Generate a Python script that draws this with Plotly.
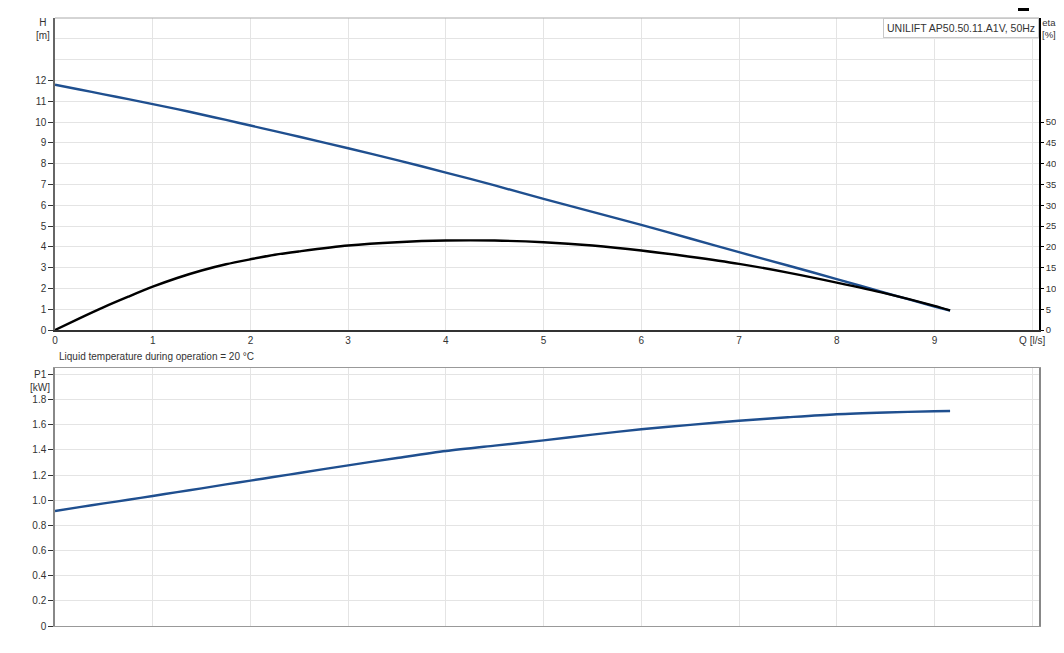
import plotly.graph_objects as go

# ---- data ----
q = [0, 0.25, 0.5, 0.75, 1, 1.25, 1.5, 1.75, 2, 2.25, 2.5, 3, 3.5, 4, 4.5, 5, 5.5, 6, 6.5, 7,
     7.5, 8, 8.5, 9, 9.16]
head_m = [11.79, 11.56, 11.33, 11.10, 10.86, 10.62, 10.36, 10.10, 9.83, 9.56, 9.29, 8.74, 8.17,
          7.57, 6.95, 6.30, 5.68, 5.05, 4.40, 3.74, 3.10, 2.45, 1.78, 1.13, 0.93]
eta_pct = [0, 2.8, 5.5, 8.0, 10.4, 12.5, 14.3, 15.8, 17.0, 18.1, 18.9, 20.3, 21.1, 21.5, 21.5,
           21.1, 20.3, 19.1, 17.6, 15.9, 13.8, 11.4, 8.8, 5.8, 4.7]
p1_kw = [0.915, 0.945, 0.975, 1.004, 1.034, 1.065, 1.095, 1.126, 1.156, 1.187, 1.217, 1.278,
         1.336, 1.392, 1.435, 1.476, 1.522, 1.565, 1.600, 1.633, 1.660, 1.684, 1.698, 1.708, 1.71]

q_ticks = list(range(0, 11))
q_ticktext = [str(v) for v in range(10)] + ["Q [l/s]"]
h_ticks = list(range(0, 13))
h_extra_grid = [13, 14, 15]
eta_ticks = list(range(0, 55, 5))
p_ticks = [0, 0.2, 0.4, 0.6, 0.8, 1.0, 1.2, 1.4, 1.6, 1.8, 2.0]
p_ticktext = ["0", "0.2", "0.4", "0.6", "0.8", "1.0", "1.2", "1.4", "1.6", "1.8", "P1"]

title_text = "UNILIFT AP50.50.11.A1V, 50Hz"
note_text = "Liquid temperature during operation = 20 °C"

BLUE = "#1f4f8f"
FONT = "Liberation Sans, Arial, sans-serif"
GRID = "#e4e4e4"

fig = go.Figure()
fig.add_trace(go.Scatter(x=q, y=head_m, mode="lines", line=dict(color=BLUE, width=2.4, shape="spline", smoothing=0.8),
                         xaxis="x", yaxis="y", showlegend=False))
fig.add_trace(go.Scatter(x=q, y=eta_pct, mode="lines", line=dict(color="#000000", width=2.4, shape="spline", smoothing=0.8),
                         xaxis="x", yaxis="y2", showlegend=False))
fig.add_trace(go.Scatter(x=q, y=p1_kw, mode="lines", line=dict(color=BLUE, width=2.4, shape="spline", smoothing=0.8),
                         xaxis="x2", yaxis="y3", showlegend=False))

OFF = 8  # page body margin
W, H = 1064 - OFF, 653 - 2 * OFF
ml, mr, mt, mb = 55 - OFF, W - (1039 - OFF), 18 - OFF, H - (626 - OFF)
ph = H - mt - mb
pw = W - ml - mr
top_dom = [(626 - 330) / ph, 1]
bot_dom = [0, (626 - 368) / ph]
xr = [0, 10.07]

fig.update_layout(
    width=W, height=H,
    margin=dict(l=ml, r=mr, t=mt, b=mb, autoexpand=False),
    paper_bgcolor="white", plot_bgcolor="white",
    font=dict(family=FONT, size=10, color="#333"),
    xaxis=dict(domain=[0, 1], anchor="y", range=xr, tickvals=q_ticks, ticktext=q_ticktext,
               showgrid=True, gridcolor=GRID, zeroline=False, showline=True, linecolor="#333",
               linewidth=1.5, ticks="", tickfont=dict(size=10), automargin=False),
    yaxis=dict(domain=top_dom, anchor="x", range=[0, 15], tickvals=h_ticks,
               minor=dict(tickvals=h_extra_grid, showgrid=True, gridcolor=GRID, ticks=""),
               showgrid=True, gridcolor=GRID, zeroline=False, showline=True, linecolor="#666",
               linewidth=1.5, ticks="outside", ticklen=5, tickcolor="#333", automargin=False),
    yaxis2=dict(overlaying="y", side="right", anchor="x", range=[0, 75], tickvals=eta_ticks,
                showgrid=False, zeroline=False, showline=True, linecolor="#000", linewidth=1.5,
                ticks="outside", ticklen=3, tickcolor="#000", automargin=False,
                tickfont=dict(size=9.5)),
    xaxis2=dict(domain=[0, 1], anchor="y3", range=xr, tickvals=q_ticks, showticklabels=False,
                showgrid=True, gridcolor=GRID, zeroline=False, showline=True, linecolor="#999",
                linewidth=1.2, mirror=True, automargin=False),
    yaxis3=dict(domain=bot_dom, anchor="x2", range=[0, 2.052], tickvals=p_ticks, ticktext=p_ticktext,
                showgrid=True, gridcolor=GRID, zeroline=False, showline=True, linecolor="#888",
                linewidth=1.5, mirror=True, ticks="outside", ticklen=5, tickcolor="#333",
                automargin=False),
    shapes=[
        dict(type="line", xref="x domain", yref="y domain", x0=0, x1=1, y0=1, y1=1,
             line=dict(color="#aaa", width=1)),
        dict(type="rect", xref="paper", yref="paper", x0=(1018 - 55) / pw,
             x1=(1029 - 55) / pw, y0=1 + (mt - 3) / ph, y1=1 + mt / ph,
             fillcolor="#000", line=dict(width=0)),
    ],
    annotations=[
        dict(text=title_text, xref="paper", yref="paper", x=0.9995, y=0.9995, xanchor="right",
             yanchor="top", showarrow=False, bgcolor="white", bordercolor="#c8c8c8", borderwidth=1,
             borderpad=3, font=dict(size=10.5, color="#333")),
        dict(text="H<br>[m]", xref="paper", yref="paper", x=0, xshift=-12, y=1, yshift=3,
             xanchor="center", yanchor="top", showarrow=False, font=dict(size=10)),
        dict(text="eta<br>[%]", xref="paper", yref="paper", x=1, xshift=1, y=1, yshift=3,
             xanchor="left", yanchor="top", showarrow=False, font=dict(size=9.5)),
        dict(text="[kW]", xref="paper", yref="y3", x=0, xshift=-15, y=1.9,
             xanchor="center", yanchor="middle", showarrow=False, font=dict(size=10)),
        dict(text=note_text, xref="paper", yref="paper", x=0, xshift=2, y=bot_dom[1], yshift=4,
             xanchor="left", yanchor="bottom", showarrow=False, font=dict(size=10)),
    ],
)

fig.write_html("out.html")
